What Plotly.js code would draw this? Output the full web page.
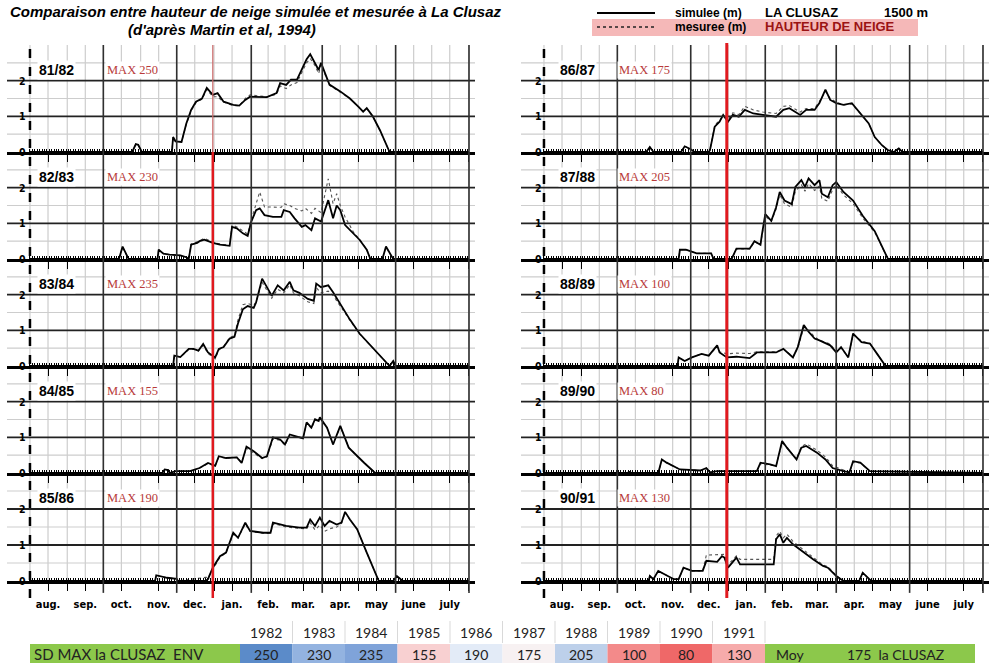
<!DOCTYPE html>
<html>
<head>
<meta charset="utf-8">
<script src="https://cdn.plot.ly/plotly-3.0.1.min.js"></script>
<style>html,body{margin:0;padding:0;background:#fff}#chart{width:1000px;height:663px}</style>
</head>
<body>
<div id="chart"></div>
<script>
// ---------------- DATA ----------------
const seasons = ['81/82','82/83','83/84','84/85','85/86','86/87','87/88','88/89','89/90','90/91'];
const years = [1982,1983,1984,1985,1986,1987,1988,1989,1990,1991];
const maxSD = [250,230,235,155,190,175,205,100,80,130];
const maxColors = ['#5b8bc9','#93b3e0','#7fa3d9','#f8d0d1','#e3ebf7','#f7f1f2','#bdd0ea','#f38a8a','#ef6868','#f6abab'];
const monthLabels = ['aug.','sep.','oct.','nov.','dec.','jan.','feb.','mar.','apr.','may','june','july'];
const monthStartDays = [0,31,61,92,122,153,184,212,243,273,304,334,365];
const monthMidDays = [15,46,76,107,137,168,198,227,258,288,319,349];
const yTickVals = [0,1,2];
const meanSD = 175;

// day index = days since 1 August
const d8182 = [0,85,88,90,93,118,119,121,126,130,134,138,143,147,152,156,161,169,174,179,183,191,197,205,208,213,217,222,226,230,233,237,240,242,249,258,266,273,277,280,285,291,298,299,365];
const s8182 = [0,0,0.22,0.2,0,0,0.42,0.3,0.28,0.8,1.18,1.41,1.5,1.8,1.6,1.65,1.41,1.32,1.3,1.46,1.55,1.54,1.54,1.65,1.93,1.88,2.03,2.03,2.3,2.6,2.74,2.5,2.3,2.5,1.89,1.7,1.5,1.27,1.13,1.23,1.0,0.61,0.05,0,0];
const m8182 = [0,0,0.22,0.2,0,0,0.4,0.3,0.28,0.78,1.15,1.38,1.48,1.75,1.55,1.55,1.4,1.3,1.3,1.5,1.6,1.58,1.55,1.62,1.85,1.78,1.88,1.95,2.22,2.5,2.62,2.42,2.2,2.45,1.87,1.68,1.5,1.27,1.13,1.22,1.0,0.6,0.05,0,0];

const d8283 = [0,74,77,82,106,107,111,116,125,130,132,134,139,141,145,152,158,166,168,172,177,181,184,188,191,195,202,209,211,216,220,226,229,234,237,242,248,252,255,258,262,269,274,280,283,293,296,302,365];
const s8283 = [0,0,0.35,0,0,0.26,0.15,0.12,0.1,0.05,0,0.4,0.45,0.5,0.54,0.45,0.4,0.37,0.9,0.86,0.72,0.65,1.05,1.37,1.42,1.23,1.18,1.18,1.37,1.32,1.14,0.9,0.95,0.81,1.14,1.05,1.65,1.14,1.5,1.37,0.95,0.72,0.54,0.26,0,0,0.35,0,0];
const m8283 = [0,0,0.33,0,0,0.25,0.15,0.12,0.1,0.05,0,0.42,0.48,0.52,0.58,0.48,0.42,0.38,0.95,0.9,0.78,0.7,1.1,1.55,1.88,1.46,1.45,1.45,1.55,1.5,1.42,1.35,1.42,1.28,1.42,1.3,2.25,1.55,1.83,1.5,1.18,0.75,0.55,0.27,0,0,0.33,0,0];

const d8384 = [0,119,120,125,132,136,140,144,148,154,157,161,166,170,173,177,181,186,188,193,197,201,206,211,216,219,224,231,236,238,242,248,252,259,266,274,283,288,299,302,304,365];
const s8384 = [0,0,0.29,0.25,0.48,0.48,0.43,0.62,0.38,0.24,0.48,0.53,0.77,0.82,1.2,1.59,1.68,1.63,1.78,2.45,2.21,1.97,2.26,2.12,2.36,2.12,2.05,1.88,1.83,2.31,2.21,2.26,2.07,1.68,1.3,0.91,0.58,0.38,0,0.14,0,0];
const m8384 = [0,0,0.28,0.25,0.46,0.47,0.42,0.58,0.35,0.2,0.45,0.55,0.8,0.85,1.3,1.72,1.75,1.7,1.8,2.35,2.12,1.9,2.15,2.05,2.28,2.05,1.97,1.8,1.75,2.2,2.05,2.1,1.98,1.62,1.28,0.9,0.58,0.38,0,0.13,0,0];

const d8485 = [0,110,112,115,116,121,133,137,141,148,154,157,163,172,176,180,186,193,197,202,208,212,216,222,227,230,234,237,240,241,247,252,258,265,272,278,287,365];
const s8485 = [0,0,0.1,0.08,0,0.05,0.05,0.1,0.14,0.28,0.2,0.47,0.42,0.44,0.28,0.74,0.61,0.42,0.47,1.0,0.94,0.8,1.08,1.02,0.97,1.42,1.27,1.51,1.46,1.56,1.27,0.8,1.32,0.71,0.47,0.28,0,0];
const m8485 = [0,0,0.1,0.08,0,0.05,0.05,0.1,0.14,0.26,0.2,0.45,0.42,0.44,0.3,0.7,0.55,0.4,0.45,0.95,0.92,0.78,1.05,1.02,0.97,1.4,1.25,1.48,1.45,1.53,1.27,0.8,1.3,0.72,0.47,0.28,0,0];

const d8586 = [0,104,105,114,122,123,146,148,152,158,163,169,173,179,183,194,200,202,208,213,224,230,233,237,241,245,249,255,259,262,266,272,280,290,302,305,310,365];
const s8586 = [0,0,0.16,0.09,0.06,0,0,0.05,0.37,0.69,0.79,1.34,1.2,1.62,1.39,1.34,1.34,1.62,1.57,1.53,1.48,1.48,1.71,1.53,1.76,1.53,1.67,1.57,1.62,1.92,1.71,1.44,0.79,0,0,0.14,0,0];
const m8586 = [0,0,0.15,0.09,0.06,0,0.1,0.1,0.32,0.66,0.78,1.3,1.2,1.58,1.38,1.32,1.32,1.58,1.55,1.5,1.46,1.45,1.62,1.42,1.55,1.38,1.45,1.5,1.6,1.9,1.7,1.44,0.79,0,0,0.13,0,0];

const d8687 = [0,85,88,91,114,117,122,125,137,138,142,146,149,153,157,162,167,174,182,193,199,204,213,218,225,229,234,238,243,249,256,263,270,275,281,286,291,295,298,365];
const s8687 = [0,0,0.14,0,0,0.16,0.08,0,0,0.05,0.71,0.85,1.04,0.85,1.04,0.99,1.18,1.08,1.04,0.99,1.18,1.23,1.04,1.18,1.18,1.37,1.75,1.46,1.37,1.32,1.37,1.08,0.8,0.42,0.19,0.05,0,0.1,0,0];
const m8687 = [0,0,0.14,0,0,0.16,0.08,0,0,0.05,0.75,0.9,1.0,0.9,1.1,1.05,1.28,1.18,1.12,1.08,1.28,1.3,1.12,1.22,1.22,1.42,1.7,1.5,1.4,1.32,1.35,1.08,0.8,0.42,0.19,0.05,0,0.1,0,0];

const d8788 = [0,112,113,118,127,139,141,156,160,171,175,180,181,184,189,193,196,200,206,209,214,217,220,225,229,231,236,240,243,249,257,265,275,281,286,365];
const s8788 = [0,0,0.26,0.26,0.16,0.16,0,0,0.29,0.29,0.5,0.4,0.64,1.26,1.07,1.45,1.88,1.64,1.54,2.02,2.21,2.02,2.26,2.07,2.21,1.83,1.73,2.07,2.16,1.88,1.64,1.21,0.78,0.35,0,0];
const m8788 = [0,0,0.26,0.26,0.16,0.16,0,0,0.28,0.28,0.48,0.4,0.6,1.2,1.05,1.4,1.8,1.55,1.45,1.9,2.08,1.9,2.12,1.92,2.05,1.7,1.62,1.95,2.08,1.8,1.55,1.15,0.75,0.35,0,0];

const d8889 = [0,111,112,117,123,131,137,144,146,152,160,171,177,193,199,207,211,216,220,225,229,238,243,247,253,257,264,271,277,284,365];
const s8889 = [0,0,0.24,0.14,0.24,0.34,0.29,0.58,0.38,0.24,0.26,0.22,0.38,0.38,0.48,0.24,0.53,1.15,0.96,0.77,0.72,0.58,0.38,0.53,0.24,0.91,0.67,0.63,0.34,0,0];
const m8889 = [0,0,0.24,0.14,0.24,0.34,0.29,0.55,0.4,0.34,0.36,0.35,0.4,0.4,0.48,0.26,0.5,1.08,1.0,0.82,0.72,0.62,0.4,0.5,0.26,0.88,0.7,0.63,0.34,0,0];

const d8990 = [0,69,71,73,95,98,102,113,130,135,138,144,177,180,188,193,198,202,210,214,218,227,234,240,249,254,257,263,271,365];
const s8990 = [0,0,0.03,0,0,0.38,0.29,0.1,0.07,0.14,0.02,0.05,0.05,0.29,0.24,0.19,0.9,0.71,0.38,0.71,0.76,0.57,0.38,0.14,0.05,0.02,0.33,0.29,0.05,0];
const m8990 = [0,0,0.03,0,0,0.36,0.28,0.1,0.07,0.13,0.02,0.05,0.05,0.26,0.22,0.2,0.85,0.7,0.4,0.74,0.82,0.64,0.45,0.2,0.08,0.02,0.3,0.28,0.05,0];

const d9091 = [0,87,88,91,95,102,108,112,116,123,132,135,144,148,150,153,160,163,191,193,196,199,202,207,216,224,232,236,243,249,262,265,272,289,290,291,365];
const s9091 = [0,0,0.14,0.05,0.28,0.16,0.05,0.05,0.37,0.28,0.28,0.56,0.53,0.69,0.65,0.37,0.65,0.46,0.46,1.16,1.3,1.06,1.2,1.02,0.79,0.6,0.42,0.37,0.14,0,0,0.23,0,0,0.03,0,0];
const m9091 = [0,0,0.14,0.05,0.28,0.16,0.05,0.05,0.37,0.28,0.28,0.72,0.72,0.74,0.74,0.45,0.7,0.6,0.6,1.25,1.38,1.2,1.3,1.1,0.85,0.65,0.45,0.4,0.15,0,0,0.23,0,0,0.03,0,0];

const dayArrays = [d8182,d8283,d8384,d8485,d8586,d8687,d8788,d8889,d8990,d9091];
const simArrays = [s8182,s8283,s8384,s8485,s8586,s8687,s8788,s8889,s8990,s9091];
const meaArrays = [m8182,m8283,m8384,m8485,m8586,m8687,m8788,m8889,m8990,m9091];

// ---------------- LAYOUT HELPERS ----------------
const W = 1000, H = 663;
const py = p => 1 - p / H;
const px = p => p / W;
const zeroPx = [152, 259, 366, 473, 581];
const topPx  = [45, 152, 259, 366, 473];
const colDom = [[7, 475], [521, 989]];
const xRange = [-19.1, 370];
const yMax = 3;
const narrow = 'Liberation Sans Narrow, Arial Narrow, DejaVu Sans Condensed, sans-serif';
const gridCol = '#cdcdcd';

// half-month gridline positions
const gridDays = [];
monthStartDays.forEach((d, i) => { gridDays.push(d); if (i < 12) gridDays.push(monthMidDays[i]); });
const minorDays = [];
for (let v = 0; v <= 365; v += 2) minorDays.push(v);
const heavyDays = [61, 122, 184, 243, 304, 365];
const lightY = [0.5, 1.5, 2.5];
const heavyY = [1, 2];

const traces = [];
const layout = {
  width: W, height: H,
  margin: {l: 0, r: 0, t: 0, b: 0},
  paper_bgcolor: '#fff', plot_bgcolor: 'rgba(0,0,0,0)',
  showlegend: false,
  shapes: [], annotations: []
};

for (let k = 0; k < 10; k++) {
  const col = k < 5 ? 0 : 1, row = k % 5;
  const n = k + 1;
  const xa = 'x' + (n === 1 ? '' : n), ya = 'y' + (n === 1 ? '' : n);
  const bottom = row === 4;
  const tickText = gridDays.map(d => { const j = monthMidDays.indexOf(d); return bottom && j >= 0 ? '<b>' + monthLabels[j] + '</b>' : ''; });

  layout['xaxis' + (n === 1 ? '' : n)] = {
    domain: [px(colDom[col][0]), px(colDom[col][1])],
    range: xRange, anchor: ya, fixedrange: true,
    tickmode: 'array', tickvals: gridDays, ticktext: tickText,
    showticklabels: bottom,
    tickfont: {family: narrow, size: 11, color: '#000'},
    ticklabelstandoff: 4,
    showgrid: false,
    showline: true, linecolor: '#000', linewidth: 3,
    ticks: 'outside', ticklen: 7, tickwidth: 1, tickcolor: '#000',
    minor: {tickmode: 'array', tickvals: minorDays, ticks: 'inside', ticklen: 3, tickwidth: 1, tickcolor: '#000', showgrid: false},
    zeroline: false
  };
  layout['yaxis' + (n === 1 ? '' : n)] = {
    domain: [py(zeroPx[row]), py(topPx[row])],
    range: [0, yMax], anchor: xa, fixedrange: true,
    showgrid: false, showticklabels: false, ticks: '',
    zeroline: false, showline: false
  };

  traces.push({x: dayArrays[k], y: meaArrays[k], xaxis: xa, yaxis: ya, mode: 'lines',
    line: {color: '#555', width: 1.1, dash: 'dot'}, hoverinfo: 'skip'});
  traces.push({x: dayArrays[k], y: simArrays[k], xaxis: xa, yaxis: ya, mode: 'lines',
    line: {color: '#000', width: 1.8}, hoverinfo: 'skip'});

  // light vertical grid lines every half month
  gridDays.forEach(d => layout.shapes.push({type: 'line', xref: xa, yref: ya + ' domain',
    x0: d, x1: d, y0: 0, y1: 1, line: {color: gridCol, width: 1.2}, layer: 'below'}));
  // horizontal grid lines (light at half metres, heavy at whole metres)
  lightY.forEach(v => layout.shapes.push({type: 'line', xref: 'paper', yref: ya + ' domain',
    x0: px(colDom[col][0]), x1: px(colDom[col][1]), y0: v / yMax, y1: v / yMax,
    line: {color: gridCol, width: 1.2}, layer: 'below'}));
  heavyY.forEach(v => layout.shapes.push({type: 'line', xref: 'paper', yref: ya + ' domain',
    x0: px(colDom[col][0]), x1: px(colDom[col][1]), y0: v / yMax, y1: v / yMax,
    line: {color: '#222', width: 1.8}, layer: 'above'}));
  // heavy vertical lines every 2 months
  heavyDays.forEach(d => layout.shapes.push({type: 'line', xref: xa, yref: ya + ' domain',
    x0: d, x1: d, y0: bottom ? -0.11 : 0, y1: 1, line: {color: '#303030', width: 1.6}, layer: 'above'}));

  // season label and MAX label
  layout.annotations.push({xref: xa, yref: ya, x: col === 0 ? 6 : 12, y: 2.3, xanchor: 'left', yanchor: 'middle',
    text: '<b>' + seasons[k] + '</b>', showarrow: false, bgcolor: '#fff',
    font: {family: 'Liberation Sans, Arial, sans-serif', size: 14, color: '#000'}});
  layout.annotations.push({xref: xa, yref: ya, x: col === 0 ? 62 : 61, y: 2.3, xanchor: 'left', yanchor: 'middle',
    text: 'MAX ' + maxSD[k], showarrow: false, bgcolor: '#fff',
    font: {family: 'Liberation Serif, Times New Roman, serif', size: 12.5, color: '#b83a3a'}});
  // y tick labels
  yTickVals.forEach(v => layout.annotations.push({xref: 'paper', yref: ya, x: px(col === 0 ? 22 : 538), y: v,
    xanchor: 'center', yanchor: 'middle', text: '<b>' + v + '</b>', showarrow: false,
    font: {family: narrow, size: 10.5, color: '#000'}}));
}

// dashed left borders and red lines
[0, 1].forEach(col => {
  const xa = col === 0 ? 'x' : 'x6';
  layout.shapes.push({type: 'line', xref: xa, yref: 'paper', x0: 0, x1: 0, y0: py(598), y1: py(45),
    line: {color: '#000', width: 2.5, dash: 'dash'}, layer: 'above'});
});
layout.shapes.push({type: 'line', xref: 'x', yref: 'paper', x0: 152, x1: 152, y0: py(152), y1: py(45),
  line: {color: '#cc6a6a', width: 1.2}, layer: 'above'});
layout.shapes.push({type: 'line', xref: 'x', yref: 'paper', x0: 152, x1: 152, y0: py(598), y1: py(152),
  line: {color: '#e01a1f', width: 2.5}, layer: 'above'});
layout.shapes.push({type: 'line', xref: 'x6', yref: 'paper', x0: 152, x1: 152, y0: py(598), y1: py(43),
  line: {color: '#e01a1f', width: 3}, layer: 'above'});

// title
layout.annotations.push({xref: 'paper', yref: 'paper', x: px(8), y: py(11), xanchor: 'left', yanchor: 'middle',
  text: '<b><i>Comparaison entre hauteur de neige simulée et mesurée à La Clusaz</i></b>', showarrow: false,
  font: {family: 'Liberation Sans, Arial, sans-serif', size: 15, color: '#000'}});
layout.annotations.push({xref: 'paper', yref: 'paper', x: px(222), y: py(30), xanchor: 'center', yanchor: 'middle',
  text: '<b><i>(d\'après Martin et al, 1994)</i></b>', showarrow: false,
  font: {family: 'Liberation Sans, Arial, sans-serif', size: 15, color: '#000'}});

// legend block
layout.shapes.push({type: 'rect', xref: 'paper', yref: 'paper', x0: px(592), x1: px(918), y0: py(36), y1: py(19),
  fillcolor: '#f5b8b8', line: {width: 0}, layer: 'below'});
layout.shapes.push({type: 'line', xref: 'paper', yref: 'paper', x0: px(597), x1: px(655), y0: py(13), y1: py(13),
  line: {color: '#000', width: 2}});
layout.shapes.push({type: 'line', xref: 'paper', yref: 'paper', x0: px(597), x1: px(655), y0: py(27), y1: py(27),
  line: {color: '#222', width: 1.5, dash: 'dot'}});
const legTexts = [
  ['simulee (m)', 673, 13, '#000', 12], ['LA CLUSAZ', 763, 12, '#000', 13], ['1500 m', 882, 12, '#000', 13],
  ['mesuree (m)', 673, 27, '#000', 12], ['HAUTEUR DE NEIGE', 763, 27, '#9b1313', 13]
];
legTexts.forEach(t => layout.annotations.push({xref: 'paper', yref: 'paper', x: px(t[1]), y: py(t[2]),
  xanchor: 'left', yanchor: 'middle', text: '<b>' + t[0] + '</b>', showarrow: false,
  font: {family: 'Liberation Sans, Arial, sans-serif', size: t[4], color: t[3]}}));

// ---------------- TABLE ----------------
const cellX0 = 240, cellW = 52.5;
const hdrTop = 621, hdrBot = 643, rowTop = 644, rowBot = 663;
const tFont = 'Lato, Open Sans, sans-serif';
layout.shapes.push({type: 'rect', xref: 'paper', yref: 'paper', x0: px(30), x1: px(240), y0: py(rowBot), y1: py(rowTop),
  fillcolor: '#8cc84b', line: {width: 0}});
layout.shapes.push({type: 'rect', xref: 'paper', yref: 'paper', x0: px(cellX0 + 10 * cellW), x1: px(975), y0: py(rowBot), y1: py(rowTop),
  fillcolor: '#8cc84b', line: {width: 0}});
years.forEach((yr, i) => {
  const x0 = cellX0 + i * cellW, x1 = x0 + cellW;
  layout.shapes.push({type: 'rect', xref: 'paper', yref: 'paper', x0: px(x0), x1: px(x1), y0: py(rowBot), y1: py(rowTop),
    fillcolor: maxColors[i], line: {width: 0}});
  layout.shapes.push({type: 'line', xref: 'paper', yref: 'paper', x0: px(x1), x1: px(x1), y0: py(hdrBot), y1: py(hdrTop),
    line: {color: '#d9d9d9', width: 1}});
  layout.annotations.push({xref: 'paper', yref: 'paper', x: px(x0 + cellW / 2), y: py(632), xanchor: 'center', yanchor: 'middle',
    text: String(yr), showarrow: false, font: {family: tFont, size: 14, color: '#222'}});
  layout.annotations.push({xref: 'paper', yref: 'paper', x: px(x0 + cellW / 2), y: py(654), xanchor: 'center', yanchor: 'middle',
    text: String(maxSD[i]), showarrow: false, font: {family: tFont, size: 14, color: '#222'}});
});
layout.annotations.push({xref: 'paper', yref: 'paper', x: px(32), y: py(654), xanchor: 'left', yanchor: 'middle',
  text: 'SD MAX la CLUSAZ  ENV', showarrow: false, font: {family: tFont, size: 15, color: '#222'}});
layout.annotations.push({xref: 'paper', yref: 'paper', x: px(774), y: py(654), xanchor: 'left', yanchor: 'middle',
  text: 'Moy', showarrow: false, font: {family: tFont, size: 14, color: '#222'}});
layout.annotations.push({xref: 'paper', yref: 'paper', x: px(845), y: py(654), xanchor: 'left', yanchor: 'middle',
  text: meanSD + '  la CLUSAZ', showarrow: false, font: {family: tFont, size: 14, color: '#222'}});

Plotly.newPlot('chart', traces, layout, {staticPlot: true, displayModeBar: false});
</script>
</body>
</html>
